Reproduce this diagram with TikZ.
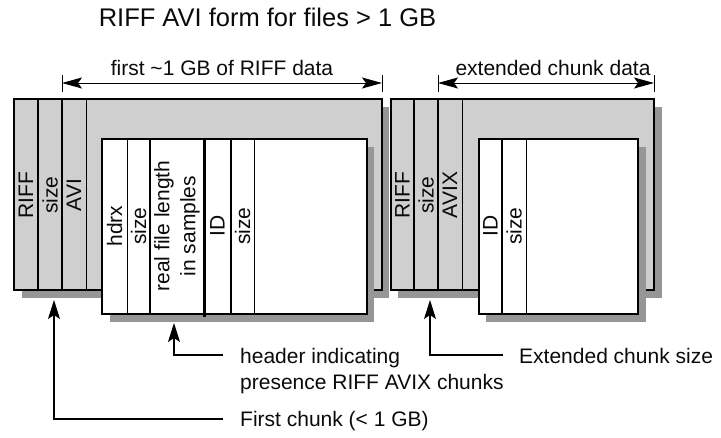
\documentclass[tikz,border=0pt]{standalone}
\usepackage{fontspec}
\setmainfont{Liberation Sans}
\usetikzlibrary{arrows.meta}
\definecolor{boxgray}{RGB}{207,207,207}
\definecolor{shadegray}{RGB}{150,150,150}
\definecolor{inkgray}{RGB}{10,10,10}

\begin{document}
\begin{tikzpicture}[x=1pt,y=-1pt,
  lbl/.style={font=\fontsize{21}{26}\selectfont, inner sep=0pt, text=inkgray},
  titlelbl/.style={font=\fontsize{25.5}{30}\selectfont, inner sep=0pt, text=inkgray},
  coltext/.style={lbl, rotate=90, align=center},
  shade/.style={fill=shadegray, draw=none},
  outerbox/.style={fill=boxgray, draw=black, line width=1.2pt},
  innerbox/.style={fill=white, draw=black, line width=1.2pt},
  septhin/.style={line width=1pt},
  sepmid/.style={line width=1.5pt},
  sepbold/.style={line width=2pt},
  dimline/.style={line width=1pt,
    arrows={Stealth[length=20pt,width=11pt,inset=4pt]-Stealth[length=20pt,width=11pt,inset=4pt]}},
  dimtick/.style={line width=1pt},
  pointer/.style={line width=1.1pt, -{Stealth[length=19pt,width=12pt,inset=4pt]}}
]
\useasboundingbox (0,0) rectangle (721,437);

% title
\node[titlelbl, anchor=base] (title) at (267.5,26) {RIFF AVI form for files > 1 GB};

% ---------- first RIFF AVI chunk ----------
\fill[shade] (22,107) rectangle (389,298);
\draw[outerbox] (14,99) rectangle (382,290);
\draw[sepmid]  (38,99) -- (38,290);
\draw[sepbold] (62,99) -- (62,290);
\draw[septhin] (86,99) -- (86,290);
\node[coltext] (riffA) at (26,195) {RIFF};
\node[coltext] (sizeA) at (50,195) {size};
\node[coltext] (avi)   at (74,195) {AVI};

\fill[shade] (110,147) rectangle (374,322);
\draw[innerbox] (102,139) rectangle (367,314);
\draw[septhin] (127,139) -- (127,314);
\draw[sepbold] (150,139) -- (150,314);
\draw[line width=2.6pt] (204.5,139) -- (204.5,317);
\draw[sepbold] (231,139) -- (231,314);
\draw[septhin] (254,139) -- (254,314);
\node[coltext] (hdrx)  at (114.5,226) {hdrx};
\node[coltext] (hsize) at (138.5,226) {size};
\node[coltext] (rlen)  at (177,226) {real file length\\in samples};
\node[coltext] (idA)   at (217.5,226) {ID};
\node[coltext] (sizeB) at (242.5,226) {size};

% ---------- extended RIFF AVIX chunk ----------
\fill[shade] (398,107) rectangle (662,298);
\draw[outerbox] (391,99) rectangle (654,290);
\draw[sepmid]  (414,99) -- (414,290);
\draw[sepbold] (438,99) -- (438,290);
\draw[septhin] (462,99) -- (462,290);
\node[coltext] (riffB) at (402.5,195) {RIFF};
\node[coltext] (sizeC) at (426,195) {size};
\node[coltext] (avix)  at (450,195) {AVIX};

\fill[shade] (486,147) rectangle (646,322);
\draw[innerbox] (479,139) rectangle (638,314);
\draw[sepbold] (502,139) -- (502,314);
\draw[septhin] (526,139) -- (526,314);
\node[coltext] (idB)   at (490.5,226) {ID};
\node[coltext] (sizeD) at (514,226) {size};

% ---------- extent markers ----------
\coordinate (dA1) at (62,83);
\coordinate (dA2) at (382,83);
\coordinate (dB1) at (438,83);
\coordinate (dB2) at (654,83);
\draw[dimtick] (62,75) -- (62,92);
\draw[dimtick] (382,75) -- (382,92);
\draw[dimtick] (438,75) -- (438,92);
\draw[dimtick] (654,75) -- (654,92);
\draw[dimline] (dA1) -- (dA2);
\draw[dimline] (dB1) -- (dB2);
\node[lbl, anchor=base] (dimA) at (222,75) {first \textasciitilde1 GB of RIFF data};
\node[lbl, anchor=base] (dimB) at (553,75) {extended chunk data};

% ---------- annotations ----------
\node[lbl, anchor=base west] (hdrA) at (240,363) {header indicating};
\node[lbl, anchor=base west] (hdrB) at (240,389) {presence RIFF AVIX chunks};
\node[lbl, anchor=base west] (first) at (240,426) {First chunk (< 1 GB)};
\node[lbl, anchor=base west] (ext) at (519,363) {Extended chunk size};

\coordinate (tipFirst) at (54,300);
\coordinate (tipHdr) at (174,323);
\coordinate (tipExt) at (430,300);
\coordinate (endFirst) at (223,419);
\coordinate (endHdr) at (223,355);
\coordinate (endExt) at (503,355);

\draw[pointer] (endFirst) -| (tipFirst);
\draw[pointer] (endHdr) -| (tipHdr);
\draw[pointer] (endExt) -| (tipExt);
\end{tikzpicture}
\end{document}
